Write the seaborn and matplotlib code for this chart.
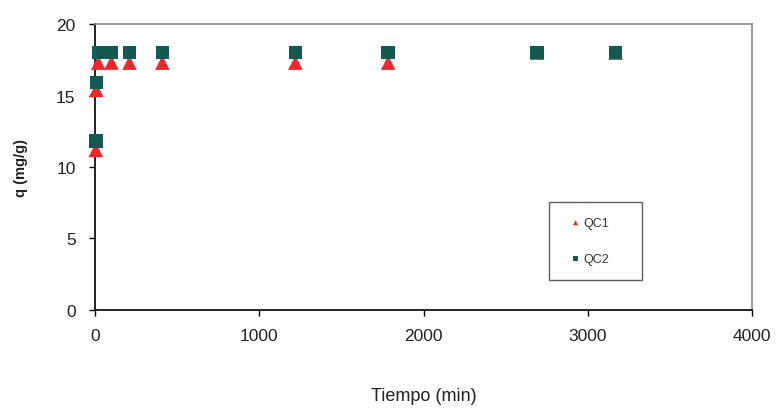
import matplotlib.pyplot as plt
import pandas as pd
import seaborn as sns

# Data
tiempo = [5, 8, 20, 100, 210, 410, 1220, 1785, 2690, 3170]
qc1 = [11.2, 15.4, 17.3, 17.3, 17.3, 17.3, 17.3, 17.3, 18.0, 18.0]
qc2 = [11.8, 15.9, 18.0, 18.0, 18.0, 18.0, 18.0, 18.0, 18.0, 18.0]

x_ticks = [0, 1000, 2000, 3000, 4000]
y_ticks = [0, 5, 10, 15, 20]


def main() -> None:
    sns.set_theme(style="white")
    plt.rcParams["font.family"] = ["Liberation Sans", "DejaVu Sans"]

    df = pd.DataFrame(
        {
            "tiempo": tiempo * 2,
            "q": qc1 + qc2,
            "serie": ["QC1"] * len(qc1) + ["QC2"] * len(qc2),
        }
    )

    fig = plt.figure(figsize=(7.78, 4.14), dpi=100)
    ax = fig.add_axes([0.1221, 0.2488, 0.8445, 0.6908])

    sns.scatterplot(
        data=df[df["serie"] == "QC1"], x="tiempo", y="q",
        marker="^", s=110, color="#f2262a", edgecolor="none",
        ax=ax, zorder=3, clip_on=False, label="QC1",
    )
    sns.scatterplot(
        data=df[df["serie"] == "QC2"], x="tiempo", y="q",
        marker="s", s=95, color="#145a52", edgecolor="none",
        ax=ax, zorder=4, clip_on=False, label="QC2",
    )

    ax.set_xlim(0, 4000)
    ax.set_ylim(0, 20)
    ax.set_xticks(x_ticks)
    ax.set_yticks(y_ticks)
    ax.tick_params(axis="both", direction="out", length=4, width=1, color="black",
                   labelsize=12.5, labelcolor="#222222", bottom=True, left=True)
    ax.tick_params(axis="y", pad=10)
    ax.tick_params(axis="x", pad=9)

    for side in ["left", "bottom"]:
        ax.spines[side].set_color("#111111")
        ax.spines[side].set_linewidth(1.3)
    for side in ["top", "right"]:
        ax.spines[side].set_color("#8a8a8a")
        ax.spines[side].set_linewidth(1.2)

    ax.set_xlabel("Tiempo (min)", fontsize=13, color="#222222", labelpad=32)
    ax.set_ylabel("q (mg/g)", fontsize=10.5, fontweight="bold", color="#222222", labelpad=20)

    leg = ax.legend(
        loc="lower left", bbox_to_anchor=(0.682, 0.084, 0.160, 0.28), mode="expand",
        frameon=True, fancybox=False, fontsize=9, markerscale=0.35,
        handletextpad=-0.3, handlelength=1.8, labelspacing=1.9, borderpad=1.2,
    )
    leg.get_frame().set_edgecolor("#333333")
    leg.get_frame().set_linewidth(1.0)
    for t in leg.get_texts():
        t.set_color("#333333")

    fig.savefig("out.png", dpi=100)
    plt.close(fig)


if __name__ == "__main__":
    main()
